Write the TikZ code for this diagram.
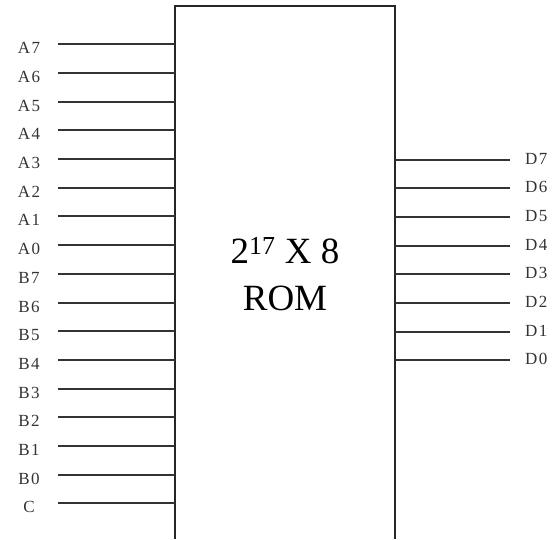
\documentclass[tikz,border=0pt]{standalone}
\usepackage{fontspec}
\setmainfont{Liberation Serif}
\newfontfamily\lblfont[LetterSpace=8]{Liberation Serif}
\begin{document}
\begin{tikzpicture}[x=1pt,y=-1pt,
  pinline/.style={line width=2pt, black!80},
  boxline/.style={line width=2pt, black!85},
  lbl/.style={font=\lblfont\fontsize{17}{18}\selectfont, inner sep=0pt, anchor=base, text=black!80},
  rlbl/.style={font=\lblfont\fontsize{17}{18}\selectfont, inner sep=0pt, anchor=base west, text=black!80},
  title/.style={font=\fontsize{37}{47}\selectfont, align=center, inner sep=0pt}]
\useasboundingbox (0,0) rectangle (557,539);
% ROM body (open at the bottom)
\coordinate (bl) at (175,539);
\coordinate (tl) at (175,6);
\coordinate (tr) at (395,6);
\coordinate (br) at (395,539);
\draw[boxline] (bl) -- (tl) -- (tr) -- (br);
\node[title] (rom) at (285,274) {2\textsuperscript{17} X 8\\ROM};
% inputs
\foreach \n [count=\i from 0] in {A7,A6,A5,A4,A3,A2,A1,A0,B7,B6,B5,B4,B3,B2,B1,B0,C} {
  \pgfmathsetmacro{\yy}{round(44.3+28.7*\i)}
  \coordinate (in\i) at (58,\yy);
  \coordinate (inb\i) at (175,\yy);
  \node[lbl] (l\n) at (29,\yy+9) {\n};
  \draw[pinline] (in\i) -- (inb\i);
}
% outputs
\foreach \n [count=\i from 0] in {D7,D6,D5,D4,D3,D2,D1,D0} {
  \pgfmathsetmacro{\yy}{round(159.5+28.7*\i)}
  \coordinate (outb\i) at (395,\yy);
  \coordinate (out\i) at (510,\yy);
  \node[rlbl] (r\n) at (525,\yy+4) {\n};
  \draw[pinline] (outb\i) -- (out\i);
}
\end{tikzpicture}
\end{document}
